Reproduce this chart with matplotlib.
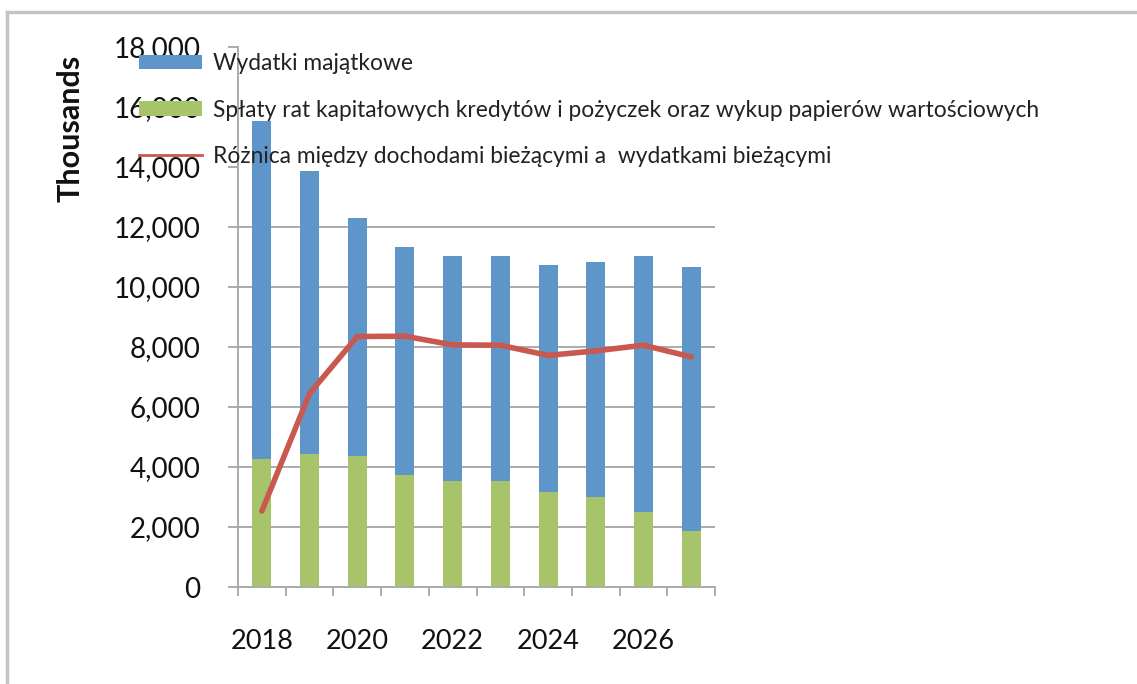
import matplotlib
matplotlib.use("Agg")
import matplotlib.pyplot as plt
from matplotlib.lines import Line2D
from matplotlib.ticker import FuncFormatter, MultipleLocator, FixedLocator
import numpy as np

plt.rcParams['font.family'] = ['Lato', 'DejaVu Sans']

# data (values in thousands)
years = [2018, 2019, 2020, 2021, 2022, 2023, 2024, 2025, 2026, 2027]
splaty = [4280, 4420, 4370, 3720, 3530, 3530, 3180, 3010, 2500, 1880]
wydatki_majatkowe = [11270, 9430, 7940, 7620, 7510, 7520, 7550, 7830, 8530, 8780]
roznica = [2530, 6450, 8350, 8360, 8070, 8060, 7720, 7870, 8060, 7670]
year_labels = ['2018', '2020', '2022', '2024', '2026']

labels = ['Wydatki majątkowe',
          'Spłaty rat kapitałowych kredytów i pożyczek oraz wykup papierów wartościowych',
          'Różnica między dochodami bieżącymi a  wydatkami bieżącymi']

blue = '#5f96ca'
green = '#a8c46a'
red = '#c9584f'
grey = '#ababab'

W, H = 1137, 684
fig = plt.figure(figsize=(W / 100, H / 100), dpi=100)
ax = fig.add_axes([238 / W, (H - 587) / H, (715 - 238) / W, (587 - 47) / H])

x = np.arange(len(years))
b_green = ax.bar(x, splaty, width=0.4, color=green, zorder=2)
b_blue = ax.bar(x, wydatki_majatkowe, width=0.4, bottom=splaty, color=blue, zorder=2)
ax.plot(x, roznica, color=red, lw=4, solid_capstyle='round',
        solid_joinstyle='round', zorder=3)

ax.set_xlim(-0.5, len(years) - 0.5)
ax.set_ylim(0, 18000)
ax.yaxis.set_major_locator(MultipleLocator(2000))
ax.yaxis.set_major_formatter(FuncFormatter(lambda v, p: f'{int(v):,}'))
ax.grid(axis='y', color=grey, lw=1.4)
ax.set_axisbelow(True)

for s in ['top', 'right']:
    ax.spines[s].set_visible(False)
for s in ['left', 'bottom']:
    ax.spines[s].set_color(grey)
    ax.spines[s].set_linewidth(1.4)

ax.tick_params(axis='y', length=7.2, width=1.4, color=grey, pad=20,
               labelsize=20, labelcolor='#111111')
ax.xaxis.set_major_locator(FixedLocator(x[::2]))
ax.set_xticklabels(year_labels)
ax.xaxis.set_minor_locator(FixedLocator(np.arange(-0.5, len(years), 1.0)))
ax.tick_params(axis='x', which='major', length=0, pad=30.5, labelsize=19.5,
               labelcolor='#111111')
ax.tick_params(axis='x', which='minor', length=6.5, width=1.4, color=grey)

# the legend hides the upper gridlines in the original
fig.canvas.draw()
for val, gl in zip(ax.get_yticks(), ax.yaxis.get_gridlines()):
    if val > 12000:
        gl.set_visible(False)

fig.text(71 / W, 1 - 128 / H, 'Thousands', rotation=90, fontsize=22,
         fontweight='bold', ha='center', va='center', color='#111111')

# page border (left and top only)
fig.add_artist(Line2D([7 / W, 7 / W], [0, 1 - 12 / H], color='#c4c4c4', lw=2.5,
                      transform=fig.transFigure))
fig.add_artist(Line2D([7 / W, 1], [1 - 12 / H, 1 - 12 / H], color='#c4c4c4', lw=2.5,
                      transform=fig.transFigure))

red_handle = Line2D([], [], color=red, lw=2)
fig.legend([b_blue, b_green, red_handle], labels, loc='upper left',
           bbox_to_anchor=(139 / W, 1 - 53 / H), frameon=False, borderpad=0,
           borderaxespad=0, fontsize=16.4, handlelength=2.76, handletextpad=0.48,
           handleheight=0.62, labelspacing=1.12, labelcolor='#222222')

fig.savefig('out.png', dpi=100)
